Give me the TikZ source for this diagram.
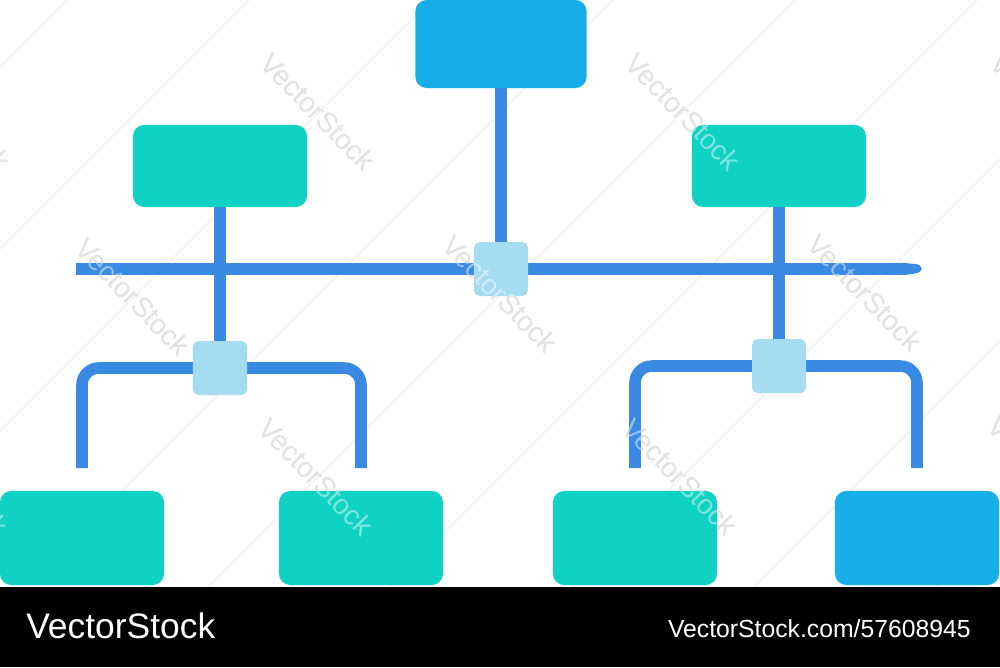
\documentclass[tikz,border=0pt]{standalone}
\usepackage{fontspec}
\newfontfamily\stockfont{Liberation Sans}
\definecolor{boxblue}{HTML}{17AFE9}
\definecolor{boxteal}{HTML}{10D2C4}
\definecolor{wireblue}{HTML}{3A89E3}
\definecolor{hubblue}{HTML}{A6DCF0}
\pgfdeclarelayer{back}
\pgfdeclarelayer{wires}
\pgfsetlayers{back,wires,main}
\begin{document}
\begin{tikzpicture}[x=0.025cm,y=-0.025cm,
        card/.style={rounded corners=8pt,inner sep=0pt},
        headcard/.style={card,fill=boxblue,minimum width=4.28cm,minimum height=2.2cm},
        branchcard/.style={card,fill=boxteal,minimum width=4.35cm,minimum height=2.05cm},
        leafcard/.style={card,fill=#1,minimum width=4.1cm,minimum height=2.35cm},
        hub/.style={fill=hubblue,rounded corners=4pt,inner sep=0pt,minimum size=1.35cm},
        wire/.style={draw=wireblue,line width=8.2pt},
        stamp/.style={inner sep=0pt,font=\stockfont\fontsize{20}{20}\selectfont,rotate=-46},
        hatch/.style={draw=black!11,line width=0.4pt}]
                \useasboundingbox (0,0) rectangle (1000,667);
                \node[headcard] (root) at (501,44) {};
                \node[branchcard] (branchL) at (220,166) {};
                \node[branchcard] (branchR) at (779,166) {};
                \node[hub] (hubC) at (501,269) {};
                \node[hub] (hubL) at (220,368) {};
                \node[hub] (hubR) at (779,366) {};
                \node[leafcard=boxteal] (leafA) at (82,538) {};
                \node[leafcard=boxteal] (leafB) at (361,538) {};
                \node[leafcard=boxteal] (leafC) at (635,538) {};
                \node[leafcard=boxblue] (leafD) at (917,538) {};
                \coordinate (busL) at (76,269);
                \coordinate (busR) at (905,269);
                \begin{pgfonlayer}{wires}
                    \draw[wire] (busL) -- (busR);
                    \fill[wireblue] (905,263) -- (915,264) .. controls (924,264.5) and (924,272.5) .. (915,273.5) -- (905,275) -- cycle;
                    \draw[wire] (root) -- (hubC);
                    \draw[wire] (branchL) -- (hubL);
                    \draw[wire] (branchR) -- (hubR);
                    \foreach \h/\a/\b in {hubL/leafA/leafB,hubR/leafC/leafD} {
                        \draw[wire,rounded corners=12pt] (\h.center) -| ([yshift=16pt]\a.north);
                        \draw[wire,rounded corners=12pt] (\h.center) -| ([yshift=16pt]\b.north);
                    }
                \end{pgfonlayer}
                \begin{pgfonlayer}{back}
                    \clip (0,0) rectangle (1000,587);
                    \foreach \c in {67,249,...,1523} {
                        \draw[hatch] (\c,0) -- (0,\c);
                    }
                    \foreach \x/\y [count=\i] in {-47/112,318/112,683/112,1048/112,133/297,500/294,865/293,-49/477,316/477,680/477,1045/475} {
                        \node[stamp,text=black!20] (stamp\i) at (\x,\y) {VectorStock};
                    }
                \end{pgfonlayer}
                \begin{scope}
                    \clip (0,0) rectangle (1000,587);
                    \foreach \i in {1,...,11} {
                        \node[stamp,text=white,opacity=0.45] (glint\i) at (stamp\i) {VectorStock};
                    }
                \end{scope}
                \fill[black] (0,587) rectangle (1000,667);
                \node[anchor=base west,inner sep=0pt,text=white,font=\stockfont\fontsize{25.2}{26}\selectfont] (brand) at (26,638) {VectorStock};
                \node[anchor=base east,inner sep=0pt,text=white,font=\stockfont\fontsize{17.6}{18}\selectfont] (stockid) at (971,637) {VectorStock.com/57608945};
            \end{tikzpicture}
\end{document}
